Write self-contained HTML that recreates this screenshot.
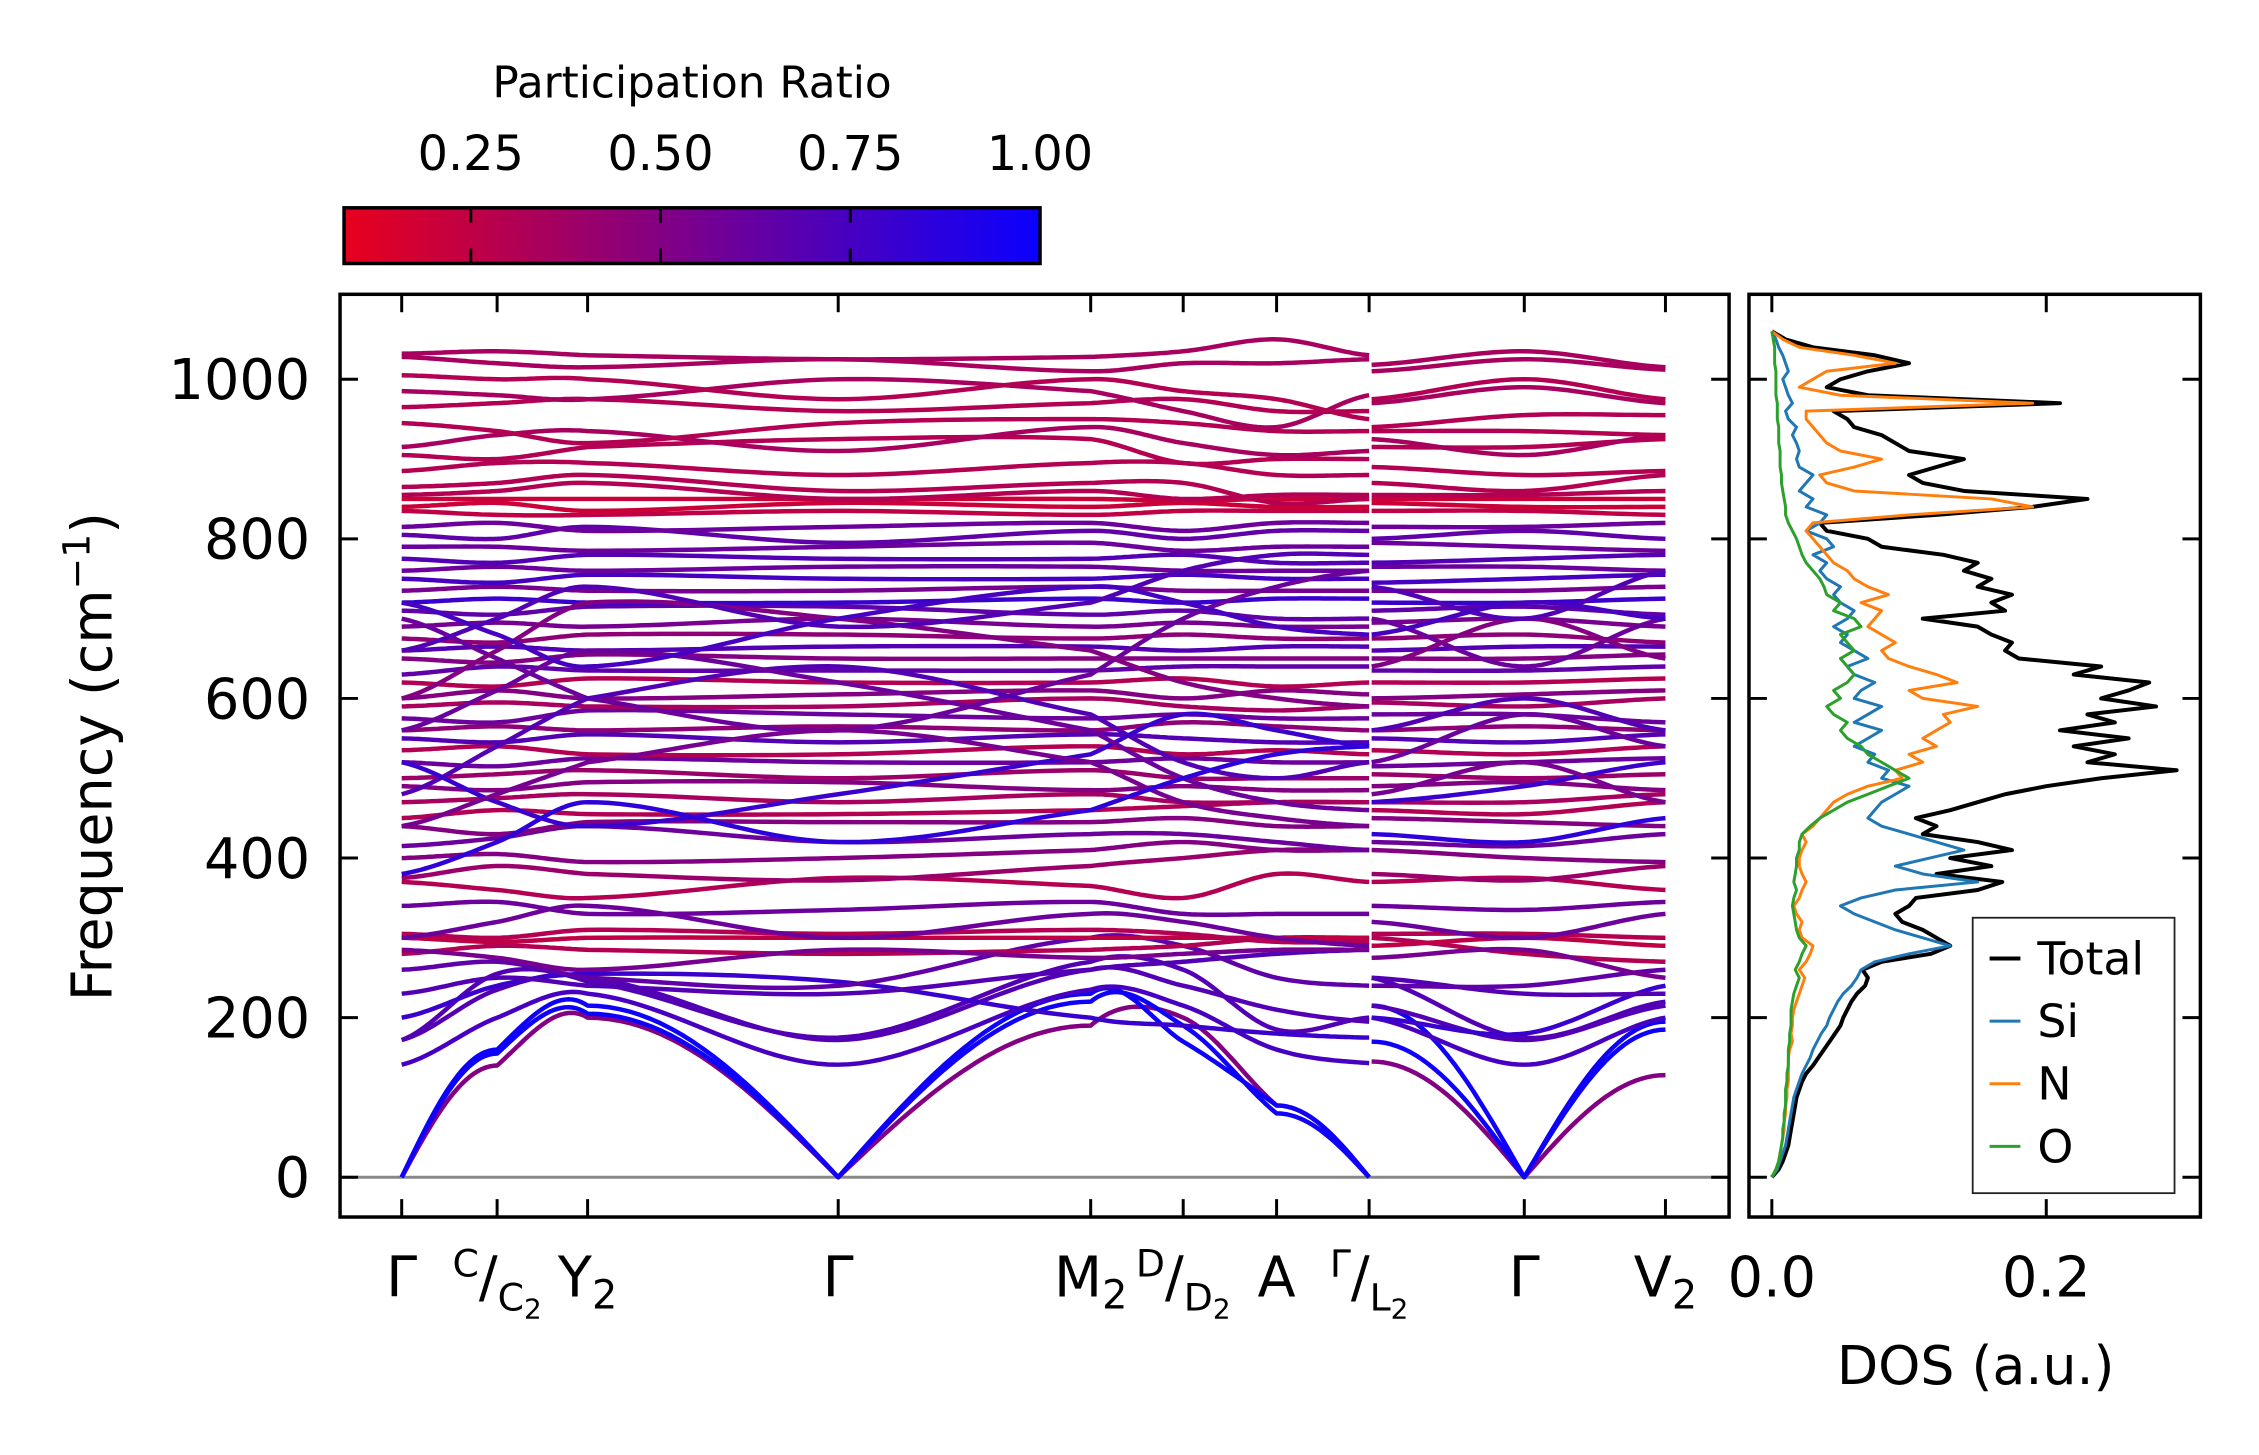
<!DOCTYPE html>
<html><head><meta charset="utf-8"><style>
html,body{margin:0;padding:0;background:#fff}
svg{display:block;font-family:"DejaVu Sans","Liberation Sans",sans-serif}
</style></head><body>
<svg id="fig" width="2259" height="1455" viewBox="0 0 2259 1455" xmlns="http://www.w3.org/2000/svg">
<defs>
<linearGradient id="cmap" x1="0" x2="1" y1="0" y2="0">
<stop offset="0" stop-color="rgb(232,0,28)"/><stop offset="1" stop-color="rgb(10,0,255)"/>
</linearGradient>
<clipPath id="mainclip"><rect x="342" y="296" width="1397" height="928"/></clipPath>
<clipPath id="dosclip"><rect x="1759" y="296" width="454" height="928"/></clipPath>
</defs>
<g transform="scale(0.9943)">
<g>
<text x="696" y="98" font-size="44" text-anchor="middle">Participation Ratio</text>
<rect x="346" y="209" width="700" height="56" fill="url(#cmap)" stroke="#000" stroke-width="3.5"/>
<g id="cbticks"></g>
</g>
<g id="main">
<line x1="342" x2="1739" y1="1184" y2="1184" stroke="#888" stroke-width="3"/>
<g id="bands" clip-path="url(#mainclip)"></g>
<rect x="342" y="296" width="1397" height="928" fill="none" stroke="#000" stroke-width="3.5"/>
<g id="mainticks"></g>
<text transform="translate(112,761) rotate(-90)" font-size="56" text-anchor="middle">Frequency (cm<tspan font-size="38" dy="-22">−1</tspan><tspan dy="22">)</tspan></text>
</g>
<g id="dos">
<g id="doslines" clip-path="url(#dosclip)"></g>
<rect x="1759" y="296" width="454" height="928" fill="none" stroke="#000" stroke-width="3.5"/>
<g id="dosticks"></g>
<text x="1987" y="1392" font-size="54" text-anchor="middle">DOS (a.u.)</text>
<g>
<rect x="1984" y="923" width="203" height="277" fill="#fff" stroke="#222" stroke-width="1.8"/>
<g id="legend"></g>
</g>
</g>
</g>
</svg>
<script>
var kLabels = ["Γ","C/C2","Y2","Γ","M2","D/D2","A","Γ/L2","Γ","V2"];
var kDist = [0, 0.0755, 0.1471, 0.3454, 0.5452, 0.6184, 0.6923, 0.7655, 0.8883, 1.0];
var bandFreqs = [
[0,140,200,0,190,200,90,0, 145,0,128],
[0,155,205,0,220,190,80,0, 170,0,185],
[0,160,215,0,230,170,90,0, 215,0,195],
[141,200,230,141,235,215,160,143, 200,141,200],
[172,235,250,172,260,240,210,195, 215,172,215],
[172,255,245,175,270,260,185,200, 250,175,220],
[200,240,255,245,200,190,180,175, 200,180,240],
[230,250,240,230,260,270,280,285, 250,230,230],
[260,270,250,240,300,290,250,240, 240,240,260],
[280,290,285,280,285,290,300,300, 300,280,270],
[300,295,300,300,300,300,300,300, 290,300,290],
[305,300,310,305,310,305,295,295, 305,305,300],
[285,275,260,285,275,280,285,285, 275,285,250],
[300,320,340,300,330,320,300,290, 320,300,330],
[340,345,330,335,345,330,330,330, 340,335,345],
[370,360,350,375,365,350,380,370, 370,375,360],
[375,390,380,372,390,400,410,410, 380,372,390],
[400,405,395,400,410,420,410,410, 410,400,395],
[415,425,440,420,430,430,420,410, 420,415,430],
[440,430,445,445,445,450,440,440, 450,445,440],
[450,460,455,455,460,465,470,470, 460,455,470],
[470,475,480,470,480,470,470,470, 470,470,480],
[490,485,495,495,485,490,485,485, 490,495,485],
[500,505,510,500,510,500,500,500, 505,500,505],
[520,515,525,520,520,525,520,520, 515,520,525],
[535,540,530,530,540,530,535,530, 535,530,540],
[550,545,555,545,555,550,545,545, 550,545,555],
[560,565,560,565,560,570,565,560, 560,565,560],
[575,570,585,580,575,580,575,575, 580,580,570],
[590,595,590,590,600,590,585,590, 595,590,600],
[600,610,600,605,610,600,610,605, 600,605,610],
[620,615,625,620,620,625,615,620, 620,620,625],
[630,640,635,635,635,640,640,640, 635,635,640],
[650,645,655,650,650,650,650,650, 650,650,655],
[660,665,660,665,665,660,665,665, 660,665,665],
[675,670,680,680,675,680,675,675, 675,680,670],
[690,695,690,700,690,695,690,690, 695,700,690],
[710,705,715,715,705,710,700,700, 710,715,705],
[720,725,720,720,725,720,725,725, 720,720,725],
[735,740,735,735,740,735,735,735, 735,735,740],
[750,745,755,750,750,755,750,750, 745,750,755],
[760,765,760,765,765,760,760,760, 765,765,760],
[775,770,780,775,775,780,770,770, 770,775,780],
[790,790,785,790,795,785,790,790, 795,790,785],
[700,650,600,560,630,700,740,760, 700,640,700],
[600,660,720,700,660,620,600,590, 640,700,650],
[480,540,600,640,580,520,500,520, 560,600,560],
[520,470,440,480,530,580,560,540, 470,490,520],
[660,700,740,690,720,760,780,780, 740,700,760],
[560,610,660,620,560,500,470,460, 520,580,540],
[720,680,640,700,740,720,690,680, 680,720,700],
[440,480,520,560,520,470,450,440, 480,520,470],
[380,420,470,420,460,500,530,540, 430,420,450],
[805,800,815,795,810,800,810,810, 800,810,800],
[815,820,810,815,820,810,820,820, 815,815,820],
[835,830,830,835,830,835,835,835, 835,835,830],
[840,845,835,845,840,845,840,840, 845,840,840],
[850,850,850,850,850,848,850,850, 850,850,850],
[855,860,870,850,860,850,855,855, 855,855,860],
[865,870,880,860,870,870,845,850, 870,860,880],
[885,895,895,880,895,895,880,880, 890,880,885],
[905,900,915,925,925,895,900,900, 915,915,925],
[915,930,935,910,940,920,905,910, 925,905,930],
[945,935,920,945,950,945,935,935, 935,935,930],
[965,970,975,960,970,975,960,960, 940,955,955],
[985,980,975,1000,985,960,940,980, 970,990,970],
[1005,1000,1000,975,1000,985,975,950, 975,1000,975],
[1028,1020,1015,1025,1010,1020,1020,1025, 1010,1025,1012],
[1032,1035,1030,1025,1028,1035,1050,1030, 1018,1035,1015]
];
var bandPR = [0.5,0.98,0.98,0.75,0.7,0.7,0.8,0.7,0.65,0.3,0.25,0.3,0.55,0.6,0.6,0.3,0.4,0.5,0.6,0.5,0.3,0.35,0.5,0.4,0.6,0.3,0.7,0.45,0.6,0.35,0.5,0.3,0.65,0.5,0.7,0.45,0.55,0.65,0.8,0.55,0.75,0.6,0.7,0.6,0.6,0.5,0.7,0.8,0.7,0.6,0.75,0.55,0.85,0.65,0.6,0.25,0.2,0.2,0.3,0.3,0.3,0.3,0.35,0.3,0.3,0.35,0.3,0.35,0.35];
var yTicks = [0,200,400,600,800,1000];
var cbTicks = [0.25,0.50,0.75,1.00];
var dosFreq = []; for (var i=0;i<=106;i++) dosFreq.push(i*10);
var dosTotal = [0,5,8,10,12,13,14,15,16,17,18,20,22,25,30,34,38,42,46,50,52,55,58,62,68,70,66,80,116,130,120,110,95,90,100,105,150,168,120,160,130,175,150,110,120,105,130,150,170,200,240,295,230,250,220,260,210,250,230,280,240,260,275,220,240,180,170,175,160,150,110,170,160,175,150,160,140,150,125,80,70,40,35,120,190,230,140,110,100,120,140,100,90,80,60,55,45,210,70,40,50,70,100,75,30,10,0];
var dosSi = [0,4,6,8,10,11,12,13,14,15,16,18,20,22,25,28,30,33,36,40,42,45,48,52,58,62,65,75,100,130,110,90,75,60,50,65,90,150,110,90,115,140,120,100,80,70,75,80,90,100,80,85,70,75,60,70,80,60,70,80,60,65,75,60,55,70,60,50,55,45,55,60,50,45,50,40,35,40,30,45,40,25,35,40,25,30,20,25,30,20,18,20,18,15,18,12,10,15,12,10,8,12,10,8,5,3,0];
var dosN = [0,3,5,6,7,8,9,9,10,10,11,11,12,12,12,12,13,15,14,15,15,16,18,20,22,24,20,25,28,30,22,20,22,18,16,20,22,25,22,20,20,22,25,22,30,35,40,45,55,70,95,90,110,100,120,110,120,130,125,150,110,100,135,120,100,85,80,90,80,70,75,80,65,85,70,60,55,45,40,35,30,25,30,100,190,160,60,40,35,60,80,50,40,35,30,25,25,190,50,20,30,40,90,60,20,8,0];
var dosO = [0,3,5,6,7,8,8,9,9,10,10,10,11,11,12,12,12,13,13,14,14,14,15,16,18,20,17,20,22,25,20,18,17,16,15,16,18,16,17,18,18,20,20,22,28,35,45,55,70,85,100,90,80,70,65,55,50,55,45,40,50,45,55,60,55,50,60,55,50,65,60,45,50,40,38,35,30,25,22,20,18,15,12,10,10,9,8,7,7,6,6,6,5,5,5,4,4,4,3,3,3,3,2,2,2,1,0];
var dosXTicks = [0.0,0.2];
var legendNames = ["Total","Si","N","O"];

var NS="http://www.w3.org/2000/svg";
function xK(d){return 404 + d*(1675-404);}
function yF(f){return 1184 - f*0.8026;}
function xD(v){return 1782 + v*1380;}
function xCB(v){return 346 + (v-0.083)/(1-0.083)*700;}
function mk(tag,attrs,parent){var e=document.createElementNS(NS,tag);for(var k in attrs)e.setAttribute(k,attrs[k]);parent.appendChild(e);return e;}
function prColor(p){var t=Math.max(0,Math.min(1,(p-0.083)/(1-0.083)));return "rgb("+Math.round(232-222*t)+",0,"+Math.round(28+227*t)+")";}

var cbg=document.getElementById('cbticks');
cbTicks.forEach(function(v){
  var x=xCB(v);
  if(v<1){
    var t1=mk('line',{x1:x,x2:x,y1:209,y2:224,stroke:'#000','stroke-width':3},cbg);
    
    
    var t2=mk('line',{x1:x,x2:x,y1:250,y2:265,stroke:'#000','stroke-width':3},cbg);
    
    
  }
  var tx=mk('text',{x:x,y:171,'font-size':48,'text-anchor':'middle'},cbg);
  tx.textContent=v.toFixed(2);
  
  
});

function curve(pts,n){
  var out=[];
  for(var i=0;i<pts.length-1;i++){
    var p0=pts[Math.max(0,i-1)],p1=pts[i],p2=pts[i+1],p3=pts[Math.min(pts.length-1,i+2)];
    var z1=p1[2]===0,z2=p2[2]===0;
    for(var s=0;s<n;s++){
      var t=s/n,x=p1[0]+(p2[0]-p1[0])*t,y;
      if(z1||z2){
        var u=z1?Math.sin(t*Math.PI/2):Math.sin((1-t)*Math.PI/2);
        var base=yF(0),top=z1?p2[1]:p1[1];
        y=base+(top-base)*u;
      } else {
        var t2=t*t,t3=t2*t;
        y=0.5*((2*p1[1])+(-p0[1]+p2[1])*t+(2*p0[1]-5*p1[1]+4*p2[1]-p3[1])*t2+(-p0[1]+3*p1[1]-3*p2[1]+p3[1])*t3);
      }
      out.push([x,y]);
    }
  }
  out.push(pts[pts.length-1]);
  return out;
}
var bg=document.getElementById('bands');
var nodeK=[kDist[0],kDist[1],kDist[2],kDist[3],kDist[4],kDist[5],kDist[6],kDist[7],kDist[7]+0.002,kDist[8],kDist[9]];
bandFreqs.forEach(function(b,bi){
  var col=prColor(bandPR[bi]);
  [[0,7],[8,10]].forEach(function(r){
    var pts=[];
    for(var j=r[0];j<=r[1];j++)pts.push([xK(nodeK[j]),yF(b[j]),b[j]]);
    var sm=curve(pts,24);
    var d=sm.map(function(p,i){return (i?'L':'M')+p[0].toFixed(1)+' '+p[1].toFixed(1);}).join('');
    var pe=mk('path',{d:d,fill:'none',stroke:col,'stroke-width':4.5,'stroke-linejoin':'round'},bg);
    
    
  });
});

var mt=document.getElementById('mainticks');
yTicks.forEach(function(v){
  var y=yF(v);
  var a=mk('line',{x1:342,x2:360,y1:y,y2:y,stroke:'#000','stroke-width':3},mt);
  
  
  var b=mk('line',{x1:1721,x2:1739,y1:y,y2:y,stroke:'#000','stroke-width':3},mt);
  
  
  var c=mk('line',{x1:1759,x2:1777,y1:y,y2:y,stroke:'#000','stroke-width':3},mt);
  
  
  var d=mk('line',{x1:2195,x2:2213,y1:y,y2:y,stroke:'#000','stroke-width':3},mt);
  
  
  var t=mk('text',{x:312,y:y+20,'font-size':56,'text-anchor':'end'},mt);
  t.textContent=String(v);
  
  
});
kDist.forEach(function(k,i){
  var x=xK(k);
  var a=mk('line',{x1:x,x2:x,y1:296,y2:314,stroke:'#000','stroke-width':3},mt);
  
  
  var b=mk('line',{x1:x,x2:x,y1:1206,y2:1224,stroke:'#000','stroke-width':3},mt);
  
  
  var lab=kLabels[i];
  var t=mk('text',{x:x,y:1304,'font-size':56,'text-anchor':'middle'},mt);
  
  
  if(lab.indexOf('/')>=0){
    var p=lab.split('/');
    var s1=mk('tspan',{'font-size':38,dy:-20},t);s1.textContent=p[0];
    var s2=mk('tspan',{dy:20},t);s2.textContent='/';
    var s3=mk('tspan',{'font-size':38,dy:14},t);s3.textContent=p[1].charAt(0);
    var s4=mk('tspan',{'font-size':28,dy:8},t);s4.textContent=p[1].slice(1);
  } else if(lab.length>1){
    var s5=mk('tspan',{},t);s5.textContent=lab.charAt(0);
    var s6=mk('tspan',{'font-size':40,dy:12},t);s6.textContent=lab.slice(1);
  } else t.textContent=lab;
});

var dl=document.getElementById('doslines');
function dosLine(vals,col,w,name){
  var d=vals.map(function(v,i){return (i?'L':'M')+xD(v/1000).toFixed(1)+' '+yF(dosFreq[i]).toFixed(1);}).join('');
  var p=mk('path',{d:d,fill:'none',stroke:col,'stroke-width':w,'stroke-linejoin':'round'},dl);
  
  
}
dosLine(dosTotal,'#000',4,'dos-total-line');
dosLine(dosSi,'#1f77b4',3,'dos-si-line');
dosLine(dosN,'#ff7f0e',3,'dos-n-line');
dosLine(dosO,'#2ca02c',3,'dos-o-line');
var dt=document.getElementById('dosticks');
dosXTicks.forEach(function(v){
  var x=xD(v);
  var a=mk('line',{x1:x,x2:x,y1:296,y2:314,stroke:'#000','stroke-width':3},dt);
  
  
  var b=mk('line',{x1:x,x2:x,y1:1206,y2:1224,stroke:'#000','stroke-width':3},dt);
  
  
  var t=mk('text',{x:x,y:1304,'font-size':56,'text-anchor':'middle'},dt);
  t.textContent=v.toFixed(1);
  
  
});
var lg=document.getElementById('legend');
var lcols=['#000','#1f77b4','#ff7f0e','#2ca02c'];
legendNames.forEach(function(n,i){
  var y=964+i*63;
  var l=mk('line',{x1:2001,x2:2032,y1:y,y2:y,stroke:lcols[i],'stroke-width':i?3:4},lg);
  
  
  var t=mk('text',{x:2049,y:y+16,'font-size':46},lg);
  t.textContent=n;
  
  
});
</script>
</body></html>
